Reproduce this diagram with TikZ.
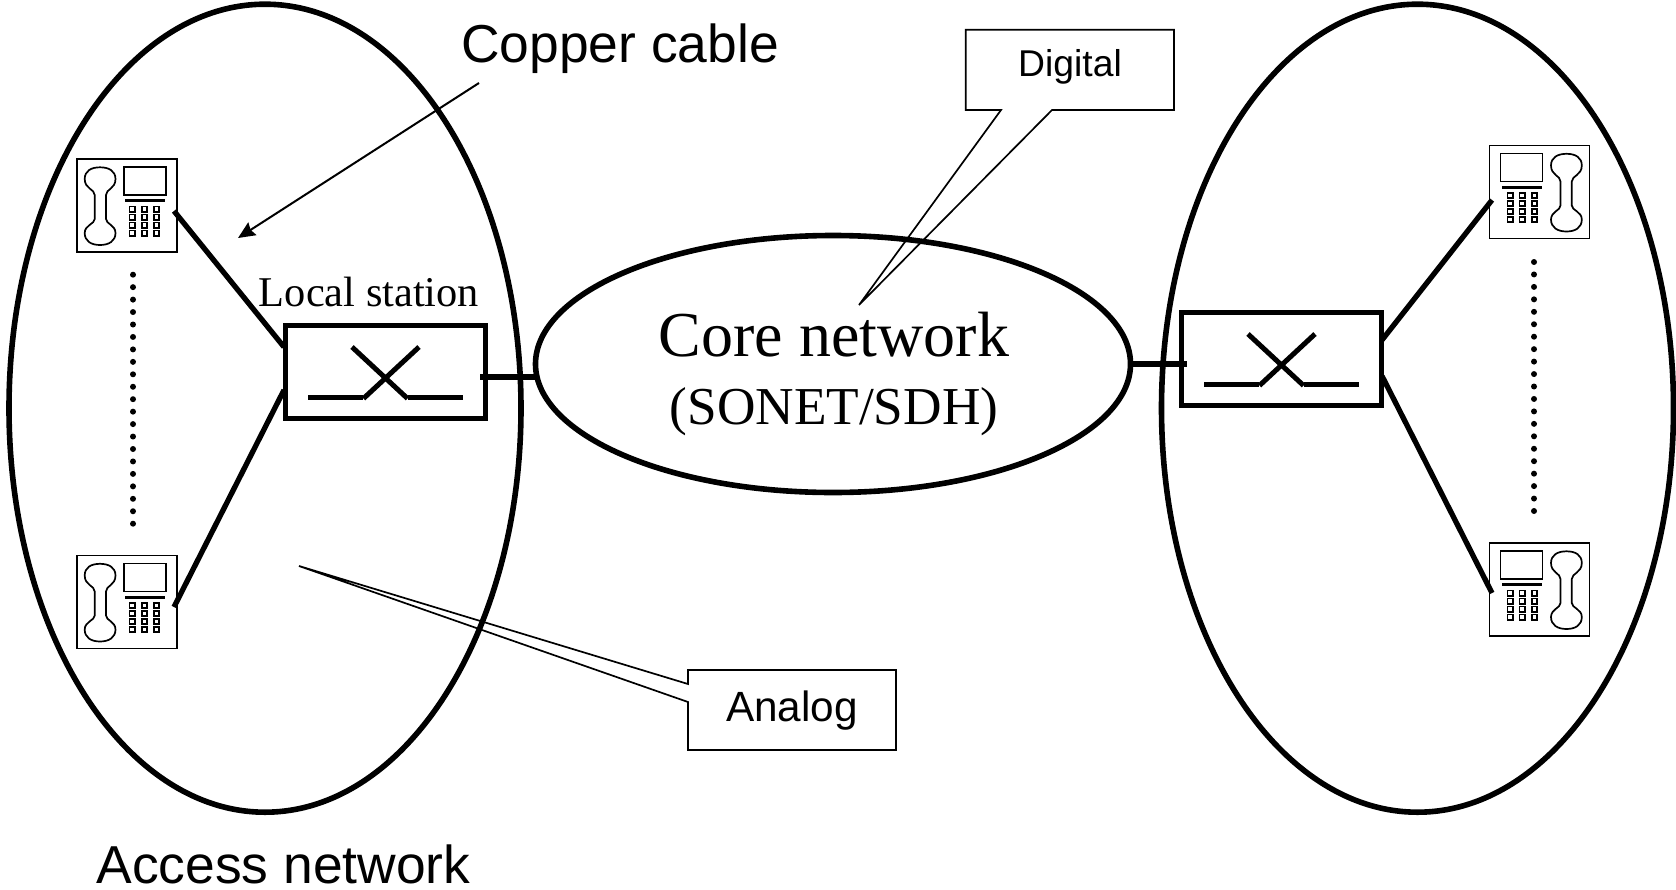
\documentclass[tikz,border=0pt]{standalone}
\usepackage{fontspec}
\setmainfont{Liberation Serif}
\setsansfont{Liberation Sans}
\usetikzlibrary{arrows.meta,shapes.geometric}
\newcommand{\fsz}[1]{\fontsize{#1}{#1}\selectfont}
\tikzset{
  x=1pt,y=-1pt,
  bigring/.style={draw,line width=5.6pt,ellipse,inner sep=0pt},
  wire/.style={line width=5.3pt},
  swbox/.style={draw,line width=5.3pt,minimum width=200pt,minimum height=93pt,inner sep=0pt},
  swline/.style={line width=5pt},
  phonebox/.style={draw,line width=1.6pt,minimum width=100pt,minimum height=93pt,inner sep=0pt},
  thin line/.style={line width=1.7pt},
  label/.style={inner sep=0pt,anchor=base},
  sanslabel/.style={label,font=\sffamily\fsz{#1}},
  seriflabel/.style={label,font=\rmfamily\fsz{#1}},
  dotmark/.style={circle,fill=black,inner sep=0pt,minimum size=6pt},
  phonebody/.pic={
    \begin{scope}[shift={(-50,-46.5)}]
      \draw[line width=1.7pt] (17.7,36) .. controls (17.7,30) and (7.7,30) .. (7.7,20)
        .. controls (7.7,12) and (14,8.3) .. (23,8.3)
        .. controls (32,8.3) and (38.5,12) .. (38.5,20)
        .. controls (38.5,30) and (29,30) .. (29,36) -- (29,60)
        .. controls (29,65) and (38.5,66) .. (38.5,74)
        .. controls (38.5,82) and (32,86) .. (23,86)
        .. controls (14,86) and (7.7,82) .. (7.7,74)
        .. controls (7.7,66) and (17.7,65) .. (17.7,60) -- cycle;
      \draw[line width=1.7pt] (47,8) rectangle (89,36);
      \fill (48,40) rectangle (88,43.3);
      \foreach \kx in {55,67.5,79.5}
        \foreach \ky in {50,58,66,74}
          \draw[line width=1.8pt] (\kx-2.6,\ky-2.6) rectangle (\kx+2.6,\ky+2.6);
    \end{scope}
  },
  switchbody/.pic={
    \draw[swline] (-77.5,25.5) -- (-22.5,25.5);
    \draw[swline] (22.5,25.5) -- (77.5,25.5);
    \draw[swline] (-22,26.5) -- (33.5,-25);
    \draw[swline] (22,26.5) -- (-33.5,-25);
  }
}
\begin{document}
\begin{tikzpicture}
\useasboundingbox (0,0) rectangle (1676,889);

% rings
\node[bigring,minimum width=512pt,minimum height=808pt] (leftring) at (265,408.2) {};
\node[bigring,minimum width=512pt,minimum height=808pt] (rightring) at (1417.5,408.2) {};
\node[bigring,minimum width=595pt,minimum height=257pt] (core) at (833,364) {};

% switches
\node[swbox] (swL) at (385.5,372) {};
\pic at (swL) {switchbody};
\node[swbox] (swR) at (1281.5,359) {};
\pic at (swR) {switchbody};

% phones
\node[phonebox] (ph1) at (127,205.5) {};
\pic at (ph1) {phonebody};
\node[phonebox] (ph2) at (127,602) {};
\pic at (ph2) {phonebody};
\node[phonebox] (ph3) at (1539.5,192) {};
\pic[xscale=-1] at (ph3) {phonebody};
\node[phonebox] (ph4) at (1539.5,589.5) {};
\pic[xscale=-1] at (ph4) {phonebody};

% wire ends
\coordinate (a1) at (174,211);
\coordinate (a2) at (174,607);
\coordinate (b1) at (284,347);
\coordinate (b2) at (284,390);
\coordinate (c1) at (1492,200);
\coordinate (c2) at (1492,593);
\coordinate (d1) at (1382,340);
\coordinate (d2) at (1382,376);
\coordinate (e1) at (480,377);
\coordinate (e2) at (535,377);
\coordinate (f1) at (1131,364);
\coordinate (f2) at (1187,364);
\draw[wire] (a1) -- (b1);
\draw[wire] (a2) -- (b2);
\draw[wire] (c1) -- (d1);
\draw[wire] (c2) -- (d2);
\draw[wire] (e1) -- (e2);
\draw[wire] (f1) -- (f2);

% dotted columns
\foreach \i in {0,...,20} {
  \node[dotmark] at (133,274.7+12.45*\i) {};
  \node[dotmark] at (1534,262+12.45*\i) {};
}

% callouts
\coordinate (dtip) at (859,305);
\coordinate (atip) at (299,566);
\draw[thin line,line join=miter] (965.7,29.7) -- (1174,29.7) -- (1174,110) -- (1052,110) -- (dtip) -- (1001,110) -- (965.7,110) -- cycle;
\draw[thin line,line join=miter] (688,670) -- (896,670) -- (896,750) -- (688,750) -- (688,702) -- (atip) -- (688,684) -- cycle;

% arrow
\coordinate (arrstart) at (479,83);
\coordinate (arrtip) at (238,238);
\draw[line width=2pt,-{Stealth[length=17pt,width=15pt,inset=2pt]}] (arrstart) -- (arrtip);

% texts
\node[sanslabel=53.4] (copper) at (620,62) {Copper cable};
\node[sanslabel=53.4] (access) at (283.5,883.5) {Access network};
\node[sanslabel=37.3] (digital) at (1070,76) {Digital};
\node[sanslabel=42.3] (analog) at (792,721) {Analog};
\node[seriflabel=64] (corelbl) at (834,356) {Core network};
\node[seriflabel=53.3] (sonet) at (834,424) {(SONET/SDH)};
\node[seriflabel=42.4] (localst) at (369,306) {Local station};
\end{tikzpicture}
\end{document}
